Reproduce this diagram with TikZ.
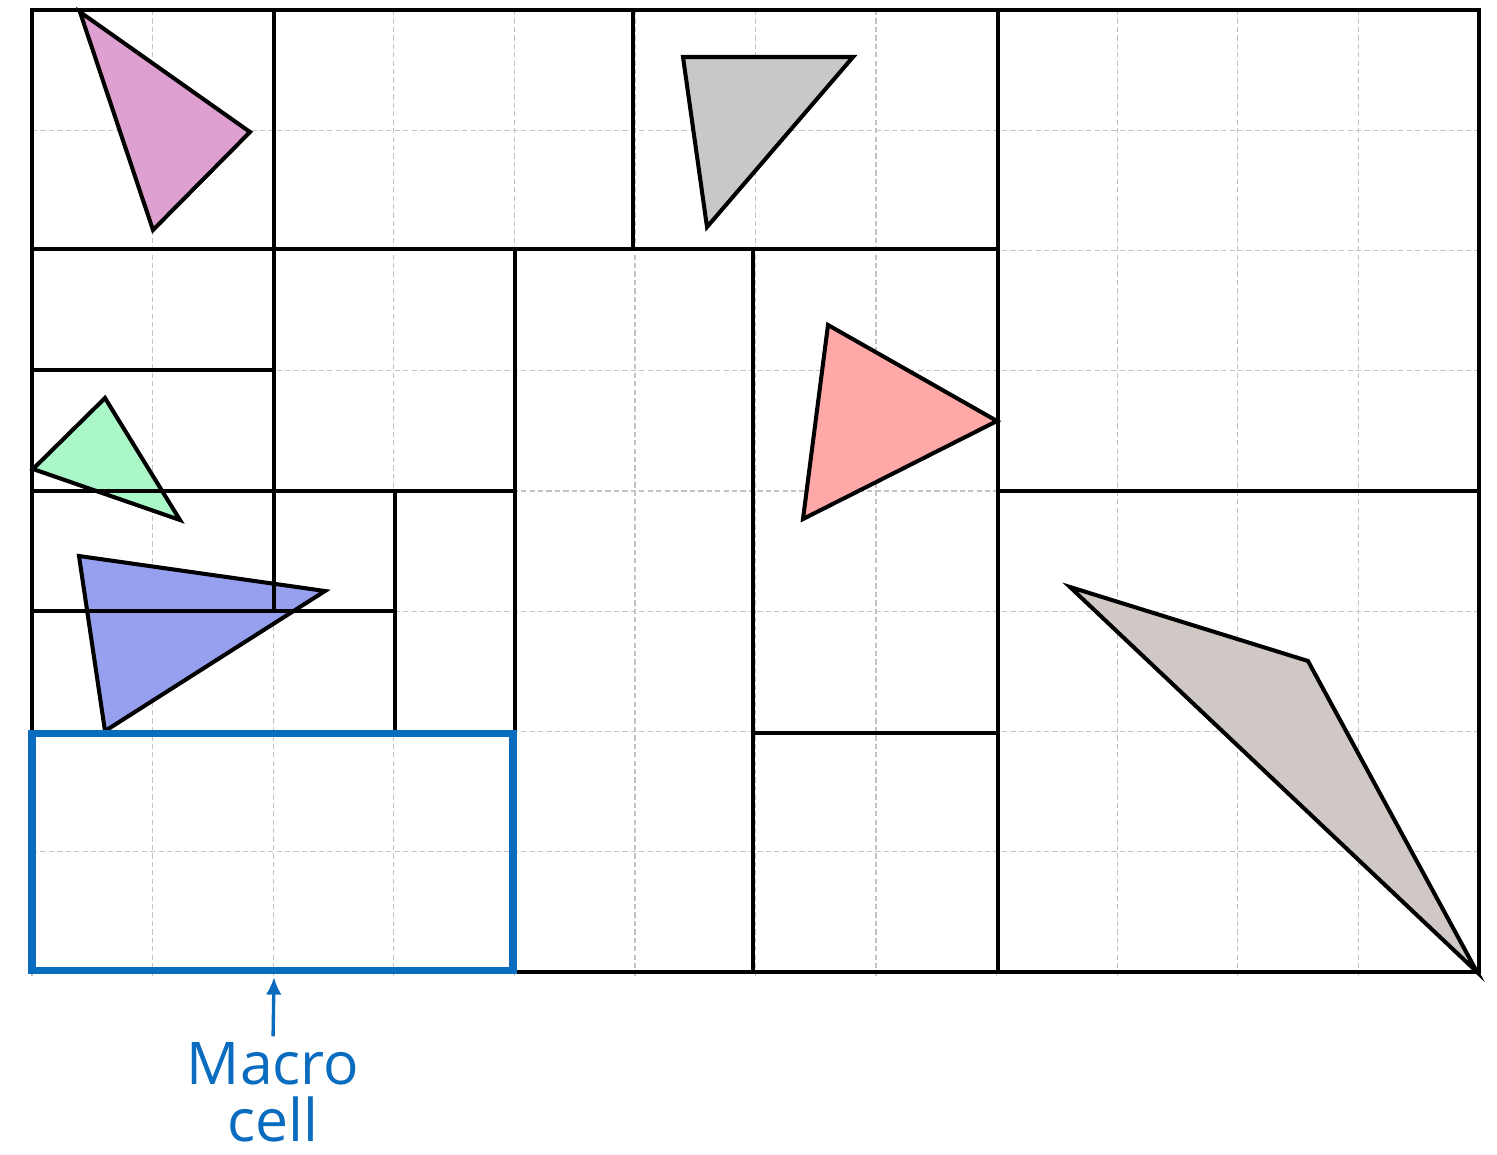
\documentclass[tikz,border=0pt]{standalone}
\usepackage{fontspec}
\setmainfont{Open Sans}
\usetikzlibrary{arrows.meta}
\definecolor{mcblue}{RGB}{10,108,190}
\definecolor{triplum}{RGB}{221,160,208}
\definecolor{trigray}{RGB}{200,200,200}
\definecolor{trigreen}{RGB}{170,248,200}
\definecolor{trired}{RGB}{255,168,168}
\definecolor{triblue}{RGB}{150,160,238}
\definecolor{tritaupe}{RGB}{208,200,196}
\definecolor{gridgray}{RGB}{195,195,195}
\tikzset{
  gridline/.style={draw=gridgray, line width=0.7pt, dash pattern=on 3pt off 1.8pt},
  cellline/.style={draw=black, line width=2.4pt, line cap=rect},
  tri/.style={draw=black, line width=2.3pt, line join=miter},
  macrobox/.style={draw=mcblue, line width=4pt},
  macroarrow/.style={draw=mcblue, line width=1.9pt, -{Latex[length=10pt,width=9pt]}},
  macrolabel/.style={text=mcblue, inner sep=0pt, font=\fontsize{33.5}{36}\selectfont}
}
\begin{document}
\begin{tikzpicture}[x=0.02cm,y=-0.02cm]
\useasboundingbox (0,0) rectangle (1497,1154);
% background grid
\foreach \i in {0,...,12} {
  \draw[gridline] ({32+\i*120.58},10) -- ({32+\i*120.58},976);
}
\foreach \j in {0,...,8} {
  \draw[gridline] (32,{10+\j*120.25}) -- (1479,{10+\j*120.25});
}
% triangles
\filldraw[tri, fill=triplum] (80,12) -- (250,132) -- (153,230) -- cycle;
\filldraw[tri, fill=trigray] (683,57) -- (853,57) -- (707,227) -- cycle;
\filldraw[tri, fill=trigreen] (33,469) -- (105,398) -- (180,520) -- cycle;
\filldraw[tri, fill=trired] (828,325) -- (997,421) -- (803,519) -- cycle;
\filldraw[tri, fill=triblue] (79,556) -- (325,591) -- (105,731) -- cycle;
\filldraw[tri, fill=tritaupe] (1070,587) -- (1308,661) -- (1477,972) -- cycle;
% cells
\draw[cellline] (32,10) rectangle (1479,972);
\draw[cellline] (32,249) -- (998,249);
\draw[cellline] (274,10) -- (274,611);
\draw[cellline] (633,10) -- (633,249);
\draw[cellline] (998,10) -- (998,972);
\draw[cellline] (32,370) -- (274,370);
\draw[cellline] (32,491) -- (515,491);
\draw[cellline] (998,491) -- (1479,491);
\draw[cellline] (515,249) -- (515,972);
\draw[cellline] (753,249) -- (753,972);
\draw[cellline] (753,733) -- (998,733);
\draw[cellline] (32,611) -- (395,611);
\draw[cellline] (395,491) -- (395,733);
\draw[cellline] (32,733) -- (515,733);
% macro cell
\draw[macrobox] (32,733) rectangle (513,970);
\coordinate (tip) at (274,977);
\node[macrolabel, anchor=base] (macro) at (273,1084) {Macro};
\node[macrolabel, anchor=base] (cell) at (273,1141) {cell};
\draw[macroarrow, shorten <=3pt] (macro.north) -- (tip);
\end{tikzpicture}
\end{document}
